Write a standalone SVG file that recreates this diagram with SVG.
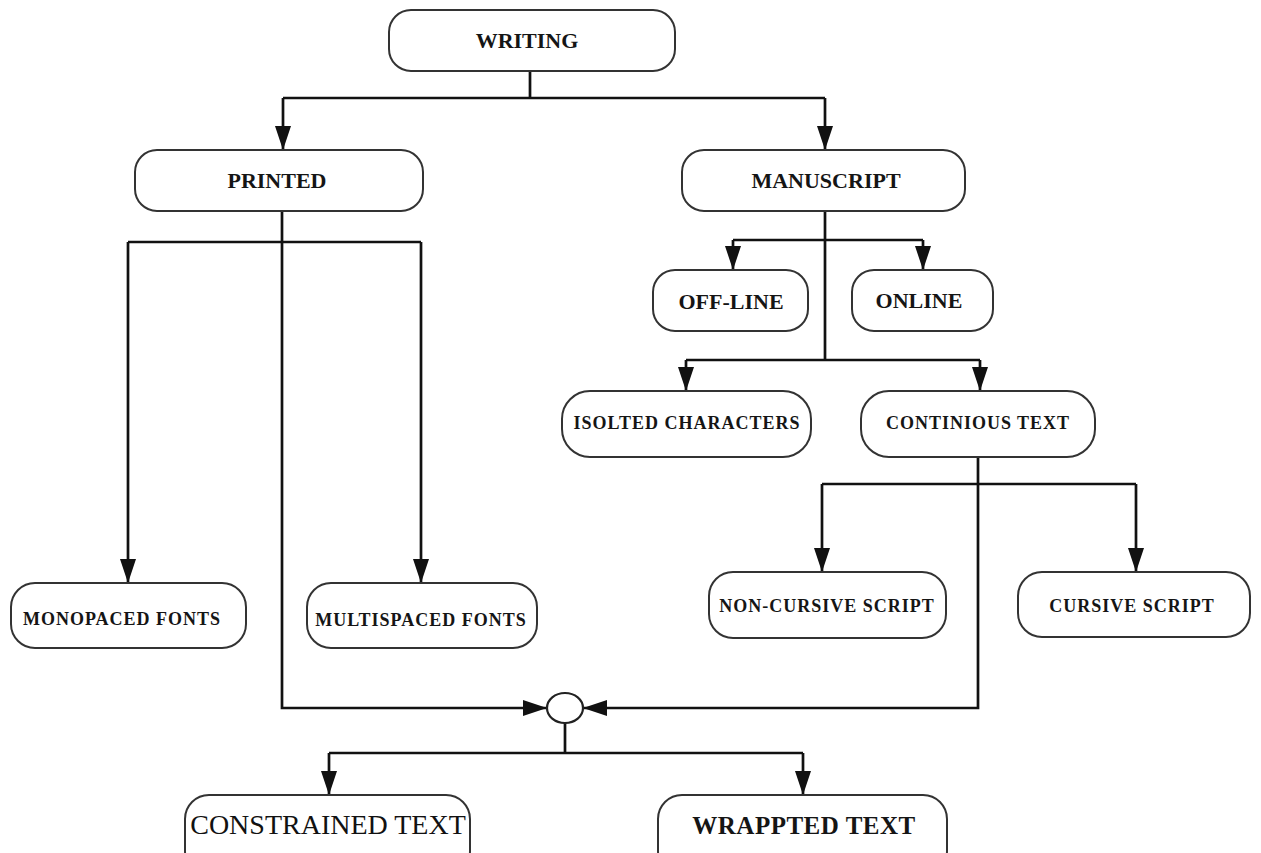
<svg xmlns="http://www.w3.org/2000/svg" width="1261" height="853" viewBox="0 0 1261 853">
<style>
.box{fill:#fff;stroke:#333;stroke-width:2}
.t{font-family:"Liberation Serif","DejaVu Serif",serif;font-weight:bold;fill:#151515;text-anchor:middle}
.big{font-size:22px}
.sm{font-size:18px;letter-spacing:1px}
.ln{fill:none;stroke:#111;stroke-width:2.7}
.ar{marker-end:url(#ah)}
</style>
<defs>
<marker id="ah" markerUnits="userSpaceOnUse" markerWidth="26" markerHeight="18" refX="24" refY="8" orient="auto">
<path d="M0,0 L24,8 L0,16 z" fill="#111"/>
</marker>
</defs>
<g id="connectors">
<path class="ln" d="M530,71 V98 M283,98 H825"/>
<path class="ln ar" d="M283,98 V150"/>
<path class="ln ar" d="M825,98 V150"/>
<path class="ln" d="M128,242 H421"/>
<path class="ln ar" d="M128,242 V583"/>
<path class="ln ar" d="M421,242 V583"/>
<path class="ln ar" d="M282,211 V708 H547"/>
<path class="ln" d="M825,211 V360 M733,240 H923 M686,360 H980"/>
<path class="ln ar" d="M733,240 V270"/>
<path class="ln ar" d="M923,240 V270"/>
<path class="ln ar" d="M686,360 V391"/>
<path class="ln ar" d="M980,360 V391"/>
<path class="ln ar" d="M978,457 V708 H583"/>
<path class="ln" d="M822,484 H1136"/>
<path class="ln ar" d="M822,484 V572"/>
<path class="ln ar" d="M1136,484 V572"/>
<path class="ln" d="M565,723 V753 M329,753 H803"/>
<path class="ln ar" d="M329,753 V795"/>
<path class="ln ar" d="M803,753 V795"/>
</g>
<g id="writing"><rect class="box" x="389" y="10" width="286" height="61" rx="22"/><text class="t big" x="527" y="48">WRITING</text></g>
<g id="printed"><rect class="box" x="135" y="150" width="288" height="61" rx="22"/><text class="t big" x="277" y="188">PRINTED</text></g>
<g id="manuscript"><rect class="box" x="682" y="150" width="283" height="61" rx="22"/><text class="t big" x="826" y="188">MANUSCRIPT</text></g>
<g id="offline"><rect class="box" x="653" y="270" width="155" height="61" rx="22"/><text class="t big" x="731" y="309">OFF-LINE</text></g>
<g id="online"><rect class="box" x="852" y="270" width="141" height="61" rx="22"/><text class="t big" x="919" y="308">ONLINE</text></g>
<g id="isolated"><rect class="box" x="562" y="391" width="249" height="66" rx="28"/><text class="t sm" x="687" y="429" letter-spacing="0.8">ISOLTED CHARACTERS</text></g>
<g id="continuous"><rect class="box" x="861" y="391" width="234" height="66" rx="28"/><text class="t sm" x="978" y="429" letter-spacing="1.3">CONTINIOUS TEXT</text></g>
<g id="monospaced"><rect class="box" x="11" y="583" width="235" height="65" rx="24"/><text class="t sm" x="122" y="625" letter-spacing="1.2">MONOPACED FONTS</text></g>
<g id="multispaced"><rect class="box" x="307" y="583" width="230" height="65" rx="24"/><text class="t sm" x="421" y="626" letter-spacing="0.8">MULTISPACED FONTS</text></g>
<g id="noncursive"><rect class="box" x="709" y="572" width="237" height="66" rx="24"/><text class="t sm" x="827" y="612" letter-spacing="0.6">NON-CURSIVE SCRIPT</text></g>
<g id="cursive"><rect class="box" x="1018" y="572" width="232" height="65" rx="24"/><text class="t sm" x="1132" y="612" letter-spacing="1">CURSIVE SCRIPT</text></g>
<g id="junction"><ellipse cx="565" cy="708" rx="18" ry="15" fill="#fff" stroke="#222" stroke-width="2.2"/></g>
<g id="constrained"><rect class="box" x="185" y="795" width="285" height="80" rx="24"/><text x="328" y="834" font-family="Liberation Serif, serif" font-size="28" fill="#111" text-anchor="middle">CONSTRAINED TEXT</text></g>
<g id="wrapped"><rect class="box" x="658" y="795" width="289" height="80" rx="24"/><text class="t" x="804" y="834" font-size="25" letter-spacing="0.5">WRAPPTED TEXT</text></g>
</svg>
